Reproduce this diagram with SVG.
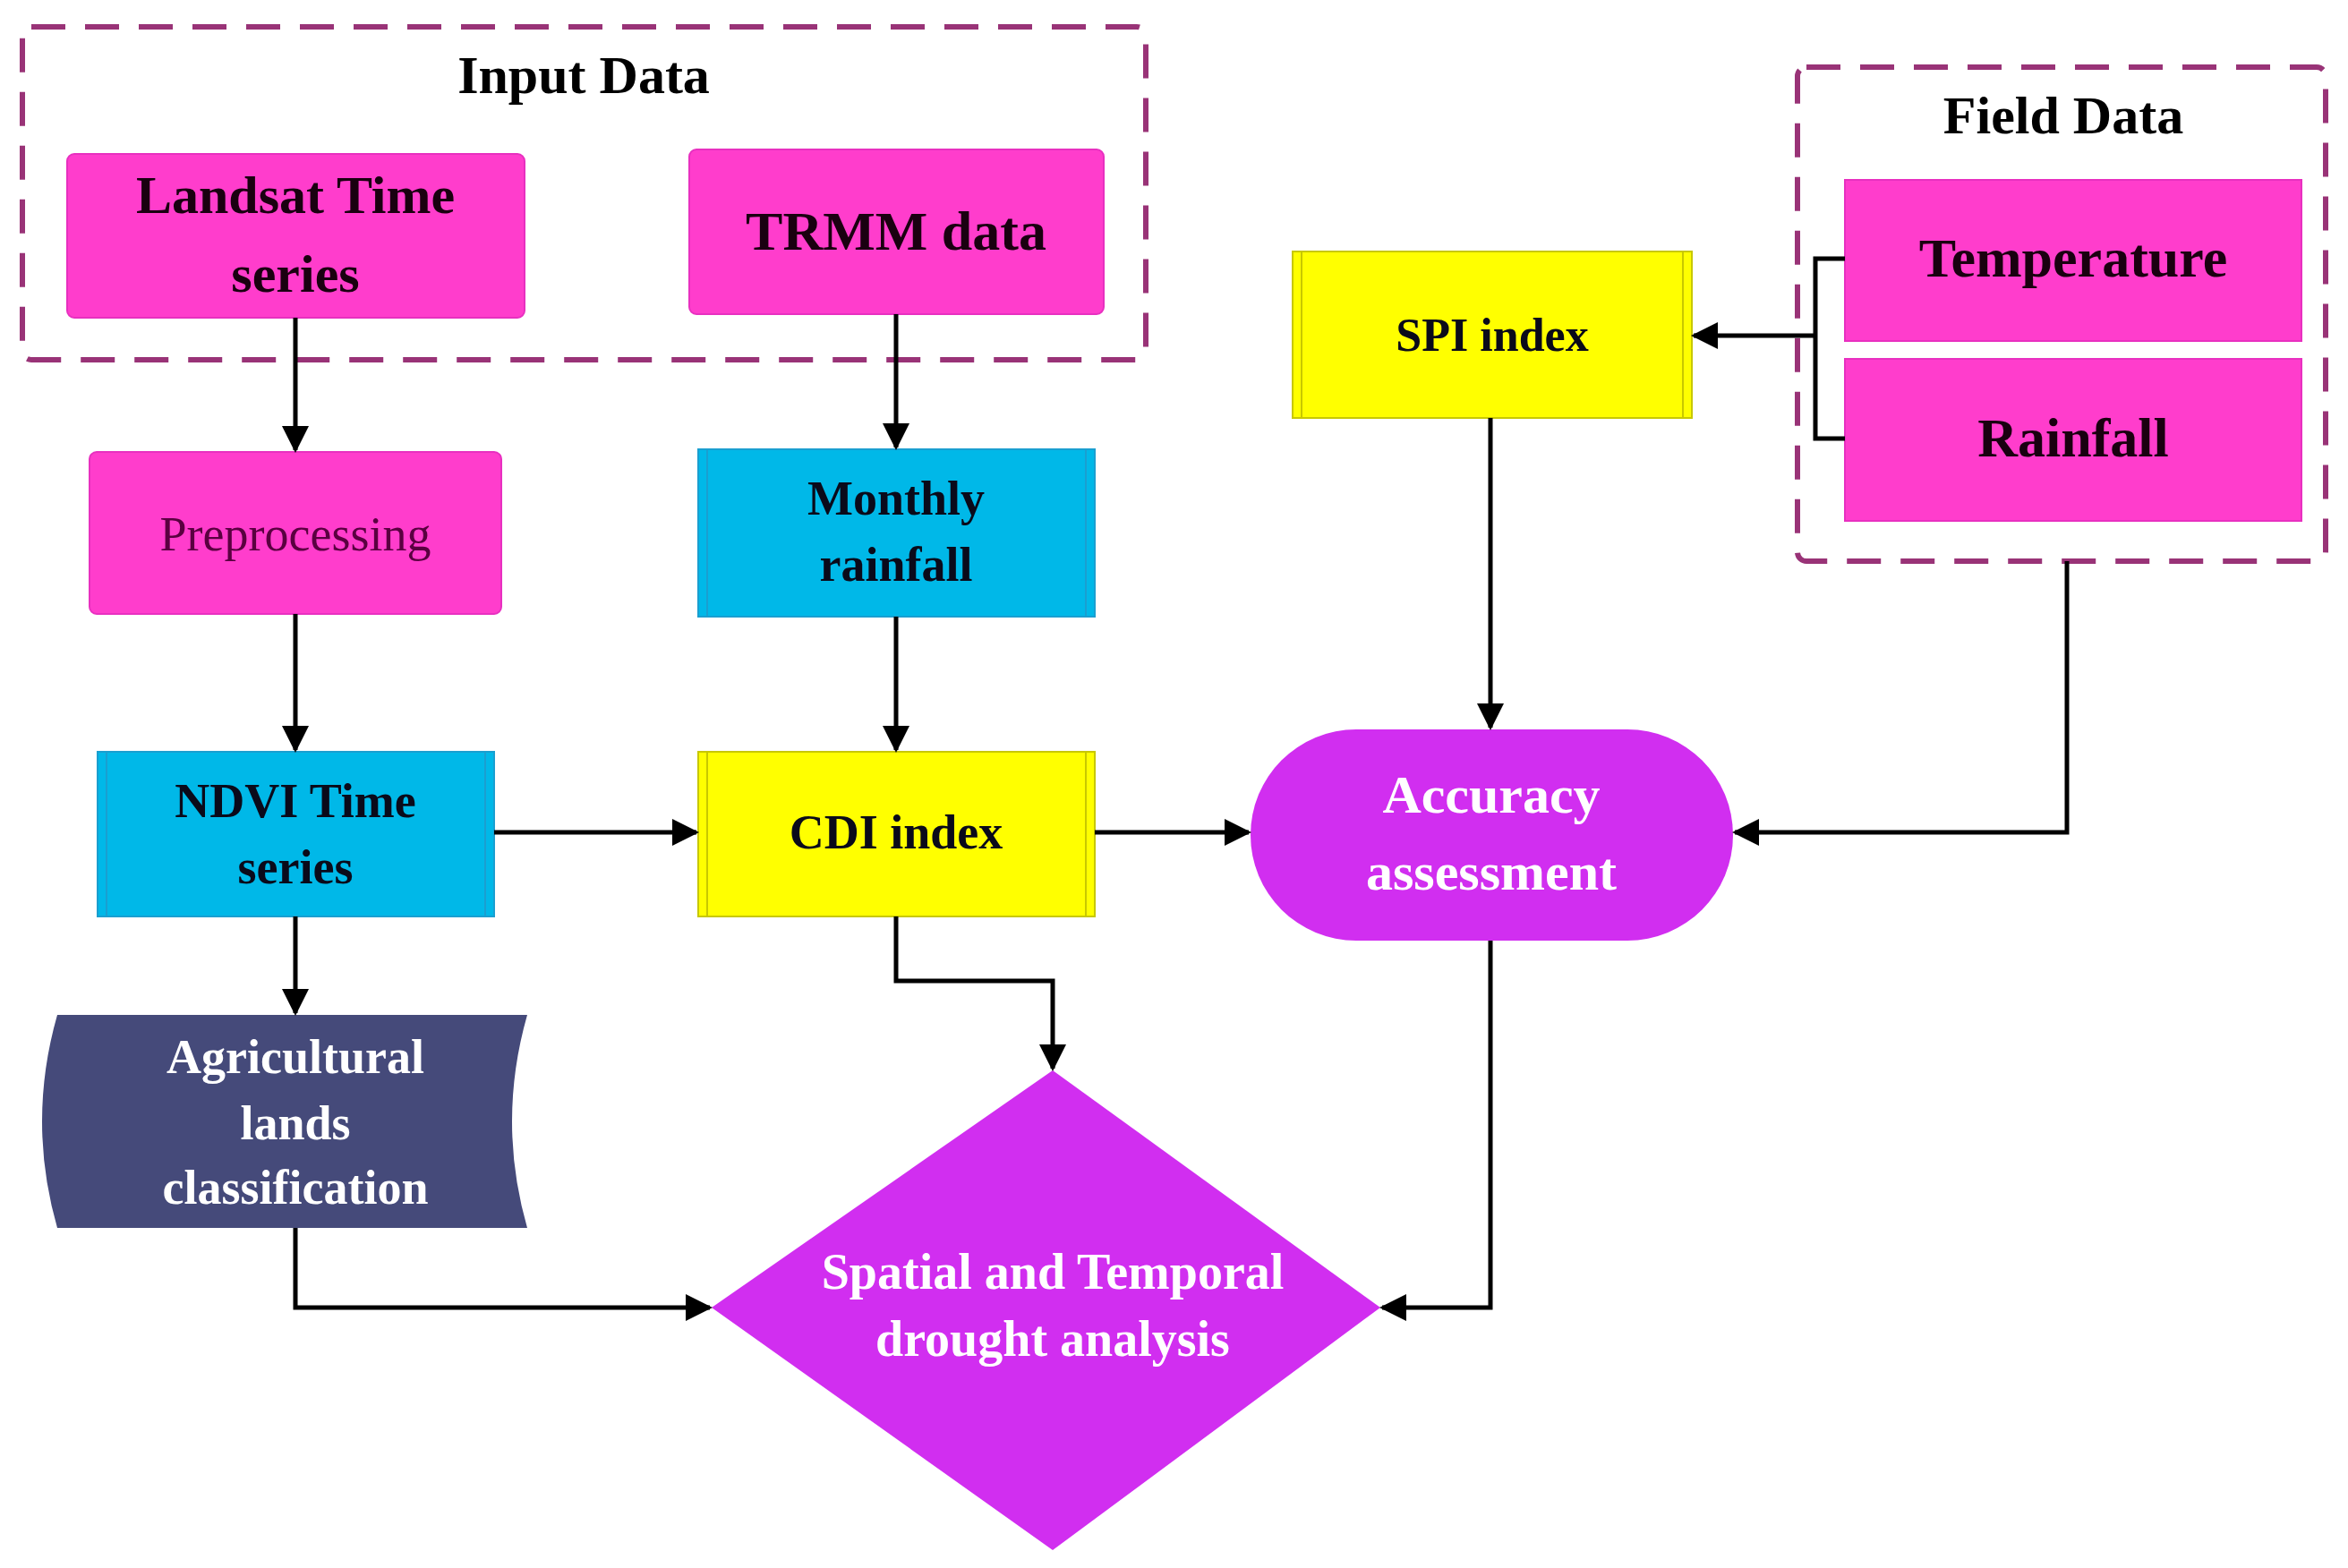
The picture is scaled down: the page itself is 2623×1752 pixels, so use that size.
<svg xmlns="http://www.w3.org/2000/svg" width="2623" height="1752" viewBox="0 0 2623 1752">
<defs>
<marker id="ah" viewBox="0 0 10 10" refX="9" refY="5" markerWidth="6" markerHeight="6" orient="auto"><path d="M0,0 L10,5 L0,10 z" fill="#000"/></marker>
</defs>
<style>
text{font-family:"Liberation Serif",serif;font-weight:bold;text-anchor:middle}
.dash{fill:none;stroke:#993377;stroke-width:6;stroke-dasharray:38,22}
.mag{fill:#ff3dcc;stroke:#e830c0;stroke-width:2}
.cy{fill:#00b8e8;stroke:#1a9fd0;stroke-width:2}
.ye{fill:#ffff00;stroke:#c8c800;stroke-width:2}
.pu{fill:#d12ef0}
.c{fill:none;stroke:#000;stroke-width:5;marker-end:url(#ah)}
.l{fill:none;stroke:#000;stroke-width:5}
</style>
<rect width="2623" height="1752" fill="#fff"/>
<g id="input-data"><rect class="dash" x="25" y="30" width="1255" height="372" rx="10"/><text x="652" y="104" font-size="60">Input Data</text></g>
<g id="field-data"><rect class="dash" x="2008" y="75" width="590" height="552" rx="10"/><text x="2305" y="149" font-size="60">Field Data</text></g>
<g id="landsat"><rect class="mag" x="75" y="172" width="511" height="183" rx="8"/><text x="330" y="238" font-size="60" fill="#1a0010">Landsat Time</text><text x="330" y="326" font-size="60" fill="#1a0010">series</text></g>
<g id="trmm"><rect class="mag" x="770" y="167" width="463" height="184" rx="8"/><text x="1001" y="279" font-size="62" fill="#1a0010">TRMM data</text></g>
<g id="preprocessing"><rect class="mag" x="100" y="505" width="460" height="181" rx="8"/><text x="330" y="615" font-size="54" font-weight="normal" style="font-weight:normal" fill="#5a0040">Preprocessing</text></g>
<g id="monthly"><rect class="cy" x="780" y="502" width="443" height="187"/><line x1="790" y1="502" x2="790" y2="689" stroke="#1a9fd0" stroke-width="2"/><line x1="1213" y1="502" x2="1213" y2="689" stroke="#1a9fd0" stroke-width="2"/><text x="1001" y="575" font-size="54" fill="#0a0a1a">Monthly</text><text x="1001" y="649" font-size="54" fill="#0a0a1a">rainfall</text></g>
<g id="ndvi"><rect class="cy" x="109" y="840" width="443" height="184"/><line x1="119" y1="840" x2="119" y2="1024" stroke="#1a9fd0" stroke-width="2"/><line x1="542" y1="840" x2="542" y2="1024" stroke="#1a9fd0" stroke-width="2"/><text x="330" y="913" font-size="54" fill="#0a0a1a">NDVI Time</text><text x="330" y="987" font-size="54" fill="#0a0a1a">series</text></g>
<g id="cdi"><rect class="ye" x="780" y="840" width="443" height="184"/><line x1="790" y1="840" x2="790" y2="1024" stroke="#c8c800" stroke-width="2"/><line x1="1213" y1="840" x2="1213" y2="1024" stroke="#c8c800" stroke-width="2"/><text x="1001" y="948" font-size="54" fill="#0a0a1a">CDI index</text></g>
<g id="spi"><rect class="ye" x="1444" y="281" width="446" height="186"/><line x1="1454" y1="281" x2="1454" y2="467" stroke="#c8c800" stroke-width="2"/><line x1="1880" y1="281" x2="1880" y2="467" stroke="#c8c800" stroke-width="2"/><text x="1667" y="392" font-size="52" fill="#0a0a1a">SPI index</text></g>
<g id="temperature"><rect class="mag" x="2061" y="201" width="510" height="180"/><text x="2316" y="309" font-size="62" fill="#1a0010">Temperature</text></g>
<g id="rainfall"><rect class="mag" x="2061" y="401" width="510" height="181"/><text x="2316" y="510" font-size="62" fill="#1a0010">Rainfall</text></g>
<g id="accuracy"><rect class="pu" x="1397" y="815" width="539" height="236" rx="118"/><text x="1666" y="908" font-size="60" fill="#fff">Accuracy</text><text x="1666" y="994" font-size="60" fill="#fff">assessment</text></g>
<g id="agricultural"><path d="M64,1134 H589 Q555,1253 589,1372 H64 Q30,1253 64,1134 z" fill="#454a7a"/><text x="330" y="1199" font-size="54" fill="#fff">Agricultural</text><text x="330" y="1273" font-size="54" fill="#fff">lands</text><text x="330" y="1345" font-size="54" fill="#fff">classification</text></g>
<g id="analysis"><path d="M1176,1196 L1542,1461 L1176,1732 L795,1461 z" class="pu"/><text x="1176" y="1440" font-size="56" fill="#fff">Spatial and Temporal</text><text x="1176" y="1515" font-size="56" fill="#fff">drought analysis</text></g>
<g id="connectors">
<path class="c" d="M330,355 V503"/>
<path class="c" d="M330,686 V838"/>
<path class="c" d="M1001,351 V500"/>
<path class="c" d="M1001,689 V838"/>
<path class="c" d="M552,930 H778"/>
<path class="c" d="M1223,930 H1395"/>
<path class="c" d="M1665,467 V813"/>
<path class="c" d="M2309,627 V930 H1938"/>
<path class="l" d="M2061,289 H2028 V490 H2061"/>
<path class="c" d="M2028,375 H1892"/>
<path class="c" d="M330,1024 V1132"/>
<path class="c" d="M1001,1024 V1096 H1176 V1194"/>
<path class="c" d="M330,1372 V1461 H793"/>
<path class="c" d="M1665,1051 V1461 H1544"/>
</g>
</svg>
